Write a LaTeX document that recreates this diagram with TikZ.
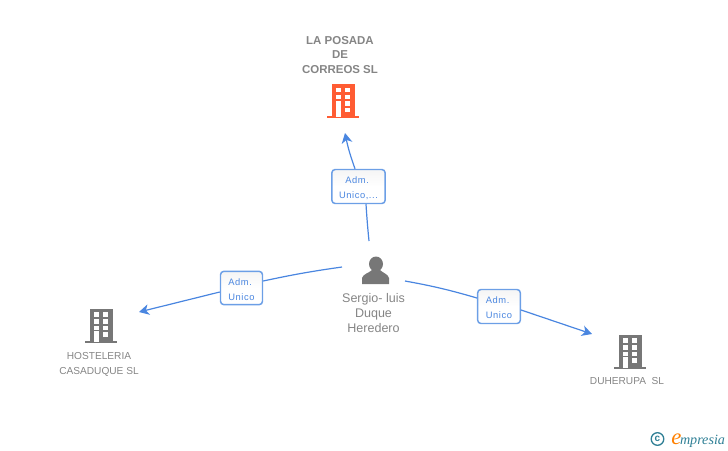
\documentclass[tikz,border=0pt]{standalone}
\usepackage{xcolor}
\usepackage{fontspec}
\setmainfont{Liberation Sans}
\newfontfamily\boxfont[LetterSpace=6]{Liberation Sans}
\newfontfamily\logofont{Liberation Serif}
\definecolor{linkblue}{HTML}{4A86E0}
\definecolor{boxblue}{HTML}{6C9FE6}
\definecolor{iconred}{HTML}{FF5C33}
\definecolor{icongray}{HTML}{777777}
\definecolor{textgray}{HTML}{858585}
\definecolor{logoteal}{HTML}{2F7F95}
\usetikzlibrary{arrows.meta,shadings}
\newcommand{\admline}{\rule{0pt}{7pt}Adm.\kern2pt}
\tikzset{
	x=0.75pt, y=-0.75pt,
	namelabel/.style={text=textgray, align=center, font=\fontsize{7.6}{11}\selectfont, inner sep=0pt},
	linkbox/.style={draw=boxblue, line width=1.1pt, rounded corners=2.5pt, top color=black!4, bottom color=white, middle color=white, text=linkblue, align=center, inner sep=0pt, font=\boxfont\fontsize{7}{11.2}\selectfont},
	link/.style={draw=linkblue, line width=0.9pt},
	linkarrow/.style={link, -{Stealth[length=7.5pt,width=8pt,inset=2.2pt]}},
	pics/building/.style={code={
		\fill[#1] (-11,-34) rectangle (12,0);
		\fill[#1] (-16,-2) rectangle (16,0);
		\foreach \wx in {-7.5,2} \foreach \wy in {-30.5,-23.5,-17}
			\fill[white] (\wx,\wy) rectangle ++(5,4.5);
		\fill[white] (2,-10.5) rectangle ++(5,4.5);
		\fill[white] (-7.5,-12) rectangle ++(5,11);
	}}
}
\begin{document}
\begin{tikzpicture}
	% page
	\useasboundingbox (0,0) rectangle (728,450);
	
	% top company
	\node[namelabel, font=\fontsize{8.6}{11}\selectfont\bfseries] (posadalabel) at (340,55) {LA POSADA\\DE\\CORREOS SL};
	\pic at (343,118) {building=iconred};
	\coordinate (posadaend) at (345,133);
	
	% the person
	\fill[icongray] (376,264) ellipse (7 and 7.5);
	\fill[icongray] (362,284) -- (362,278) .. controls (363,274) and (369,273) .. (372,270) -- (380,270) .. controls (383,273) and (388,274) .. (389,278) -- (389,284) -- cycle;
	\node[namelabel, font=\fontsize{9.4}{11.2}\selectfont] (personlabel) at (373.5,313) {Sergio- luis\\Duque\\Heredero};
	\coordinate (persontop) at (369,241);
	\coordinate (personleft) at (342,267);
	\coordinate (personright) at (405,281);
	
	% left company
	\pic at (101,342.5) {building=icongray};
	\node[namelabel] (hostelerialabel) at (99,364.5) {HOSTELERIA\\CASADUQUE SL};
	\coordinate (hostend) at (139,312);
	
	% right company
	\pic at (630,368.5) {building=icongray};
	\node[namelabel] (duherupalabel) at (627,381) {DUHERUPA\ \ SL};
	\coordinate (duhend) at (592,334);
	
	% role boxes
	\node[linkbox, minimum width=40pt, minimum height=25.5pt] (admtop) at (358.5,186.5) {\admline\\Unico,...};
	\node[linkbox, minimum width=31.5pt, minimum height=25pt] (admleft) at (241.5,288) {\admline\\Unico};
	\node[linkbox, minimum width=32pt, minimum height=25.5pt] (admright) at (499,306.5) {\admline\\Unico};
	
	% connectors
	\draw[link] (persontop) to[bend left=1] (admtop.south -| 366,0);
	\draw[linkarrow] (admtop.north -| 355,0) to[bend left=4] (posadaend);
	\draw[link] (personleft) to[bend right=2] (admleft.east |- 0,281);
	\draw[linkarrow] (admleft.west |- 0,292) to (hostend);
	\draw[link] (personright) to[bend left=3] (admright.west |- 0,298);
	\draw[linkarrow] (admright.east |- 0,310) to (duhend);
	
	% logo
	\draw[logoteal, line width=1pt] (657.5,439) circle (6.3);
	\node[text=logoteal, inner sep=0pt, font=\fontsize{7.5}{7.5}\selectfont\bfseries] (copyright) at (657.5,438.7) {c};
	\node[anchor=base west, inner sep=0pt, text=logoteal, font=\logofont\itshape\fontsize{10.6}{11}\selectfont] (logotext) at (671,444) {{\color{orange}\fontsize{17}{17}\selectfont e}\kern-1pt mpresia};
\end{tikzpicture}
\end{document}
